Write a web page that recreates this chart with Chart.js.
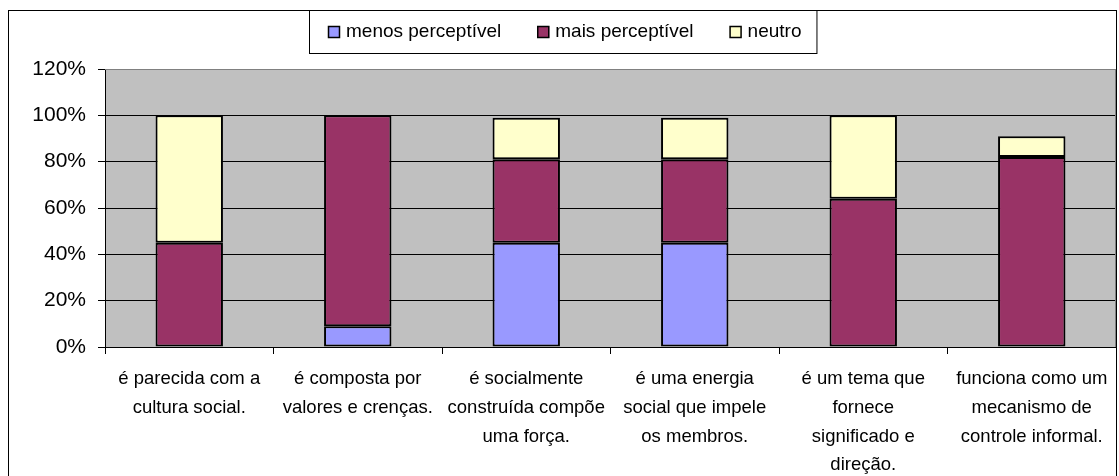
<!DOCTYPE html>
<html>
<head>
<meta charset="utf-8">
<script src="https://cdn.jsdelivr.net/npm/chart.js@4"></script>
<style>
  html, body { margin: 0; padding: 0; background: #fff; }
  #wrap { width: 1119px; height: 476px; }
</style>
</head>
<body>
<div id="wrap"><canvas id="grafico"></canvas></div>
<script>
// categorias (eixo x)
const categorias = [
  ["é parecida com a", "cultura social."],
  ["é composta por", "valores e crenças."],
  ["é socialmente", "construída compõe", "uma força."],
  ["é uma energia", "social que impele", "os membros."],
  ["é um tema que", "fornece", "significado e", "direção."],
  ["funciona como um", "mecanismo de", "controle informal."]
];

// valores em %
const menosPerceptivel = [0, 9, 45, 45, 0, 0];
const maisPerceptivel = [45, 91, 36, 36, 64, 82];
const neutro = [55, 0, 18, 18, 36, 9];

const ticksY = [0, 20, 40, 60, 80, 100, 120];

// fundo cinza da área do gráfico + moldura
const fundo = {
  id: "fundo",
  beforeDraw(chart) {
    const { ctx, chartArea: a } = chart;
    ctx.save();
    ctx.fillStyle = "#C0C0C0";
    ctx.fillRect(a.left, a.top, a.right - a.left, a.bottom - a.top);
    ctx.restore();
  },
  afterDraw(chart) {
    const { ctx, chartArea: a } = chart;
    ctx.save();
    ctx.strokeStyle = "#808080";
    ctx.lineWidth = 1;
    ctx.beginPath();
    ctx.moveTo(a.left, a.top + 0.5);
    ctx.lineTo(a.right - 0.5, a.top + 0.5);
    ctx.lineTo(a.right - 0.5, a.bottom);
    ctx.stroke();
    ctx.strokeStyle = "#000";
    ctx.strokeRect(8.5, 10.5, 1108, 480);
    ctx.restore();
  }
};

// legenda com caixa, no estilo do Excel
const legenda = {
  id: "legenda",
  afterDraw(chart) {
    const ctx = chart.ctx;
    const sets = chart.data.datasets;
    ctx.save();
    ctx.font = "19px 'Liberation Sans', Arial, sans-serif";
    ctx.textBaseline = "middle";
    const caixa = 12, gapTexto = 6, gapItem = 36, margem = 19;
    const larguras = sets.map(d => caixa + gapTexto + ctx.measureText(d.label).width);
    const total = larguras.reduce((s, w) => s + w, 0) + gapItem * (sets.length - 1) + margem * 2 - 4;
    const x0 = Math.round((chart.width - total) / 2) + 3;
    const y0 = 10, h = 43;
    ctx.fillStyle = "#fff";
    ctx.fillRect(x0, y0, total, h);
    ctx.strokeStyle = "#000";
    ctx.lineWidth = 1;
    ctx.strokeRect(x0 + 0.5, y0 + 0.5, total, h);
    let x = x0 + margem;
    const cy = y0 + h / 2 + 0.5;
    sets.forEach((d, i) => {
      ctx.fillStyle = d.backgroundColor;
      ctx.fillRect(x, cy - 6, caixa, caixa);
      ctx.lineWidth = 1.5;
      ctx.strokeRect(x + 0.5, cy - 5.5, caixa - 1, caixa - 1);
      ctx.fillStyle = "#000";
      ctx.fillText(d.label, x + caixa + gapTexto, cy);
      x += larguras[i] + gapItem;
    });
    ctx.restore();
  }
};

const ctx = document.getElementById("grafico").getContext("2d");

new Chart(ctx, {
  type: "bar",
  data: {
    labels: categorias,
    datasets: [
      { label: "menos perceptível", data: menosPerceptivel, backgroundColor: "#9999FF" },
      { label: "mais perceptível", data: maisPerceptivel, backgroundColor: "#993366" },
      { label: "neutro", data: neutro, backgroundColor: "#FFFFCC" }
    ].map(d => Object.assign(d, {
      borderColor: "#000",
      borderWidth: 2,
      borderSkipped: false,
      barPercentage: 0.4,
      categoryPercentage: 1
    }))
  },
  options: {
    responsive: true,
    maintainAspectRatio: false,
    animation: false,
    layout: { padding: { top: 69, left: 8, right: 3, bottom: 0 } },
    plugins: {
      legend: { display: false },
      tooltip: { enabled: false }
    },
    scales: {
      x: {
        stacked: true,
        grid: {
          display: true,
          drawOnChartArea: false,
          drawTicks: true,
          tickLength: 7,
          color: "#000",
          offset: true
        },
        border: { color: "#000" },
        ticks: {
          color: "#000",
          padding: 11,
          maxRotation: 0,
          autoSkip: false,
          font: { family: "'Liberation Sans', Arial, sans-serif", size: 18.5, lineHeight: 1.55 }
        },
        afterFit(scale) { scale.height = 129; }
      },
      y: {
        stacked: true,
        min: 0,
        max: 120,
        afterBuildTicks(scale) { scale.ticks = ticksY.map(v => ({ value: v })); },
        grid: {
          color: c => (c.tick && c.tick.value === 120 ? "#808080" : "#000"),
          tickColor: "#000",
          tickLength: 7,
          lineWidth: 1
        },
        border: { color: "#000" },
        ticks: {
          color: "#000",
          padding: 12,
          callback: v => v + "%",
          font: { family: "'Liberation Sans', Arial, sans-serif", size: 21 }
        },
        afterFit(scale) { scale.width = 97; }
      }
    }
  },
  plugins: [fundo, legenda]
});
</script>
</body>
</html>
